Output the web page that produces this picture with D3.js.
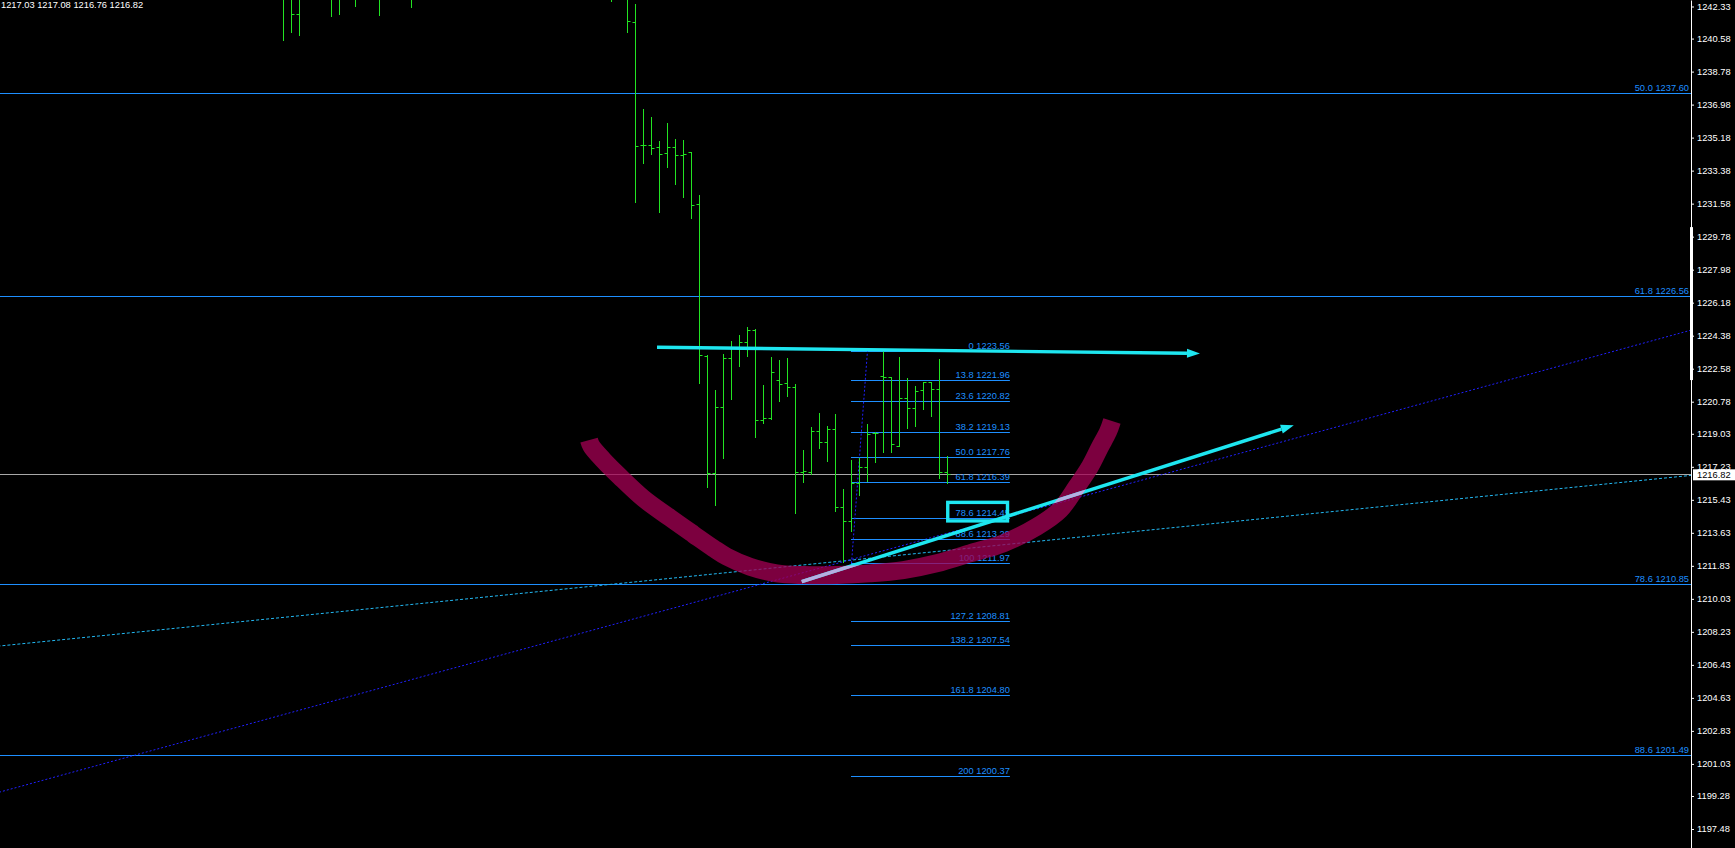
<!DOCTYPE html>
<html>
<head>
<meta charset="utf-8">
<script src="https://cdn.jsdelivr.net/npm/d3@7/dist/d3.min.js"></script>
<style>
  html, body { margin: 0; padding: 0; background: #000; overflow: hidden; }
  svg { display: block; }
  text { font-family: "Liberation Sans", Arial, sans-serif; }
</style>
</head>
<body>
<svg id="chart" width="1735" height="848"></svg>
<script>
// ---------------- DATA ----------------
const headerText = "1217.03 1217.08 1216.76 1216.82";
const currentPrice = 1216.82;

const priceTicks = [1242.33,1240.58,1238.78,1236.98,1235.18,1233.38,1231.58,1229.78,1227.98,
  1226.18,1224.38,1222.58,1220.78,1219.03,1217.23,1215.43,1213.63,1211.83,1210.03,1208.23,
  1206.43,1204.63,1202.83,1201.03,1199.28,1197.48];

// bar number (time index), OHLC
const barIndex = [35,36,37,41,42,44,47,51,76,78,79,80,81,82,83,84,85,86,87,88,89,90,91,92,93,94,95,96,97,98,99,100,101,102,103,104,105,106,107,108,109,110,111,112,113,114,115,116,117,118];
const barOpen  = [1243.40,1243.00,1241.90,1243.30,1243.00,1243.40,1243.20,1243.00,1243.30,1243.00,1241.47,1234.76,1234.76,1234.65,1234.32,1234.65,1234.21,1234.38,1231.54,1223.27,1216.91,1220.47,1223.15,1223.69,1224.05,1224.69,1219.78,1219.90,1221.96,1221.78,1221.57,1216.96,1216.96,1219.20,1218.60,1219.28,1215.05,1214.29,1216.36,1217.24,1219.06,1222.18,1222.11,1218.37,1220.97,1220.42,1221.42,1221.87,1221.46,1216.96];
const barHigh  = [1243.90,1243.60,1243.50,1243.80,1243.70,1244.00,1243.90,1243.60,1243.80,1243.50,1242.47,1236.74,1236.31,1234.99,1235.97,1235.10,1235.05,1234.40,1232.05,1223.30,1221.42,1223.38,1224.07,1224.43,1224.87,1224.73,1221.69,1223.23,1223.05,1223.15,1221.75,1218.15,1219.42,1220.15,1219.46,1220.09,1216.02,1217.60,1217.69,1219.56,1219.14,1223.56,1222.14,1223.20,1222.06,1221.64,1221.87,1221.87,1223.09,1217.82];
const barLow   = [1240.50,1240.96,1240.79,1241.83,1241.92,1242.37,1241.88,1242.32,1242.63,1240.96,1231.69,1233.81,1234.30,1231.14,1233.59,1232.67,1231.96,1230.80,1221.81,1216.15,1215.16,1217.73,1220.94,1222.74,1223.29,1218.87,1219.64,1219.85,1220.83,1221.11,1214.70,1216.42,1216.82,1218.27,1217.56,1214.82,1212.05,1213.75,1215.69,1216.47,1217.51,1218.05,1218.05,1218.37,1219.36,1219.46,1220.40,1220.02,1216.60,1216.36];
const barClose = [1243.10,1241.90,1242.95,1243.00,1243.20,1243.10,1242.90,1243.30,1242.95,1241.52,1234.72,1234.76,1234.60,1234.27,1234.65,1234.21,1234.27,1231.49,1223.33,1216.91,1220.47,1223.15,1223.69,1224.05,1224.69,1219.78,1219.88,1222.42,1221.73,1221.57,1216.96,1217.02,1219.20,1218.60,1219.28,1215.05,1214.29,1216.36,1217.24,1219.02,1219.06,1222.11,1218.47,1220.97,1220.42,1221.38,1221.87,1221.46,1216.96,1216.82];

// large Fibonacci retracement (levels reaching the price axis)
const bigFibLevels = ["50.0","61.8","78.6","88.6"];
const bigFibPrices = [1237.60,1226.56,1210.85,1201.49];

// small Fibonacci retracement
const fibLevels = ["0","13.8","23.6","38.2","50.0","61.8","78.6","88.6","100","127.2","138.2","161.8","200"];
const fibPrices = [1223.56,1221.96,1220.82,1219.13,1217.76,1216.39,1214.45,1213.29,1211.97,1208.81,1207.54,1204.80,1200.37];
const fibAnchorBars = [106, 108];
const fibAnchorPrices = [1211.97, 1223.56];
const fibEndBar = 125.8;

// trend lines (bar, price anchors; extended across the chart)
const cyanTrendBars = [0, 105];
const cyanTrendPrices = [1207.48, 1212.10];
const blueTrendBars = [0, 105];
const blueTrendPrices = [1199.55, 1212.06];

// hand-drawn annotations
const arcBars   = [73.19,73.5,74.98,77.06,79.98,83.31,86.23,88.73,90.40,93.31,96.65,99.98,104.15,108.31,112.48,116.65,120.81,124.98,129.15,132.06,134.15,135.81,137.06,138.06,138.56];
const arcPrices = [1218.69,1218.35,1217.60,1216.69,1215.51,1214.45,1213.55,1212.79,1212.33,1211.78,1211.42,1211.33,1211.33,1211.42,1211.60,1211.97,1212.51,1213.06,1213.96,1214.88,1216.15,1217.24,1218.31,1219.13,1219.73];
const arrow1Bars = [81.69, 149.56];
const arrow1Prices = [1223.75, 1223.41];
const arrow2Bars = [99.78, 161.29];
const arrow2Prices = [1210.97, 1219.50];
const boxBars = [118.03, 125.5];
const boxPrices = [1215.29, 1214.28];
const axisMarkPrices = [1230.30, 1221.96];

// ---------------- DRAW ----------------
const W = 1735, H = 848, axisX = 1691;
const svg = d3.select("#chart");
svg.append("rect").attr("width", W).attr("height", H).attr("fill", "#000");

const x = d3.scaleLinear().domain([0, 211]).range([3.5, 1691.5]);
const y = d3.scaleLinear().domain([1196.444, 1242.684]).range([H, 0]);
const cy = v => Math.round(y(v)) + 0.5;

const defs = svg.append("defs");
defs.append("clipPath").attr("id", "plot").append("rect")
  .attr("x", 0).attr("y", 0).attr("width", axisX).attr("height", H);

const arcLine = d3.line().x(d => x(d[0])).y(d => y(d[1])).curve(d3.curveCatmullRom.alpha(0.5));
const arcPts = arcBars.map((b, i) => [b, arcPrices[i]]);
const bandW = 18;
const mask = defs.append("mask").attr("id", "bandMask").attr("maskUnits", "userSpaceOnUse")
  .attr("x", 0).attr("y", 0).attr("width", W).attr("height", H);
mask.append("path").attr("d", arcLine(arcPts)).attr("fill", "none")
  .attr("stroke", "#fff").attr("stroke-width", bandW);

const plot = svg.append("g").attr("clip-path", "url(#plot)");

// header text
plot.append("text").attr("x", 1).attr("y", 8).attr("fill", "#fff")
  .attr("font-size", "9.3px").text(headerText);

// current price line
plot.append("line").attr("x1", 0).attr("x2", axisX).attr("y1", cy(currentPrice)).attr("y2", cy(currentPrice))
  .attr("stroke", "#a8a8a8").attr("stroke-width", 1);

// big fib levels
const fibBlue = "#1e8fff";
bigFibPrices.forEach((p, i) => {
  plot.append("line").attr("x1", 0).attr("x2", axisX).attr("y1", cy(p)).attr("y2", cy(p))
    .attr("stroke", fibBlue).attr("stroke-width", 1);
  plot.append("text").attr("x", axisX - 2).attr("y", cy(p) - 2.5).attr("text-anchor", "end")
    .attr("fill", fibBlue).attr("font-size", "9.3px").text(bigFibLevels[i] + " " + p.toFixed(2));
});

// trend lines
function trend(bars, prices, color, dash) {
  const slope = (prices[1] - prices[0]) / (bars[1] - bars[0]);
  const b0 = -2, b1 = 212;
  plot.append("line")
    .attr("x1", x(b0)).attr("y1", y(prices[0] + (b0 - bars[0]) * slope))
    .attr("x2", x(b1)).attr("y2", y(prices[0] + (b1 - bars[0]) * slope))
    .attr("stroke", color).attr("stroke-width", 1).attr("stroke-dasharray", dash);
}
trend(cyanTrendBars, cyanTrendPrices, "#22b8f2", "3,2");
trend(blueTrendBars, blueTrendPrices, "#2020ff", "2,2");

// small fib
fibPrices.forEach((p, i) => {
  plot.append("line").attr("x1", x(fibAnchorBars[0]) - 0.5).attr("x2", x(fibEndBar))
    .attr("y1", cy(p)).attr("y2", cy(p)).attr("stroke", fibBlue).attr("stroke-width", 1);
  plot.append("text").attr("x", x(fibEndBar)).attr("y", cy(p) - 2.5).attr("text-anchor", "end")
    .attr("fill", fibBlue).attr("font-size", "9.3px").text(fibLevels[i] + " " + p.toFixed(2));
});
plot.append("line")
  .attr("x1", x(fibAnchorBars[0])).attr("y1", y(fibAnchorPrices[0]))
  .attr("x2", x(fibAnchorBars[1])).attr("y2", y(fibAnchorPrices[1]))
  .attr("stroke", "#2020ff").attr("stroke-width", 1).attr("stroke-dasharray", "2,2");

// OHLC bars
const green = "#22e322";
const gb = plot.append("g").attr("stroke", green).attr("stroke-width", 1);
barIndex.forEach((k, i) => {
  const bx = x(k);
  gb.append("line").attr("x1", bx).attr("x2", bx).attr("y1", Math.round(y(barHigh[i]))).attr("y2", Math.round(y(barLow[i])) + 1);
  gb.append("line").attr("x1", bx - 3).attr("x2", bx).attr("y1", cy(barOpen[i])).attr("y2", cy(barOpen[i]));
  gb.append("line").attr("x1", bx).attr("x2", bx + 3).attr("y1", cy(barClose[i])).attr("y2", cy(barClose[i]));
});

// magenta hand-drawn arc
svg.append("path").attr("d", arcLine(arcPts)).attr("fill", "none")
  .attr("stroke", "#a30053").attr("stroke-opacity", 0.76).attr("stroke-width", bandW)
  .attr("stroke-linecap", "butt").attr("stroke-linejoin", "round");

// cyan arrows
const cyan = "#1ee6f0";
function arrow(bars, prices, color, masked) {
  const x1 = x(bars[0]), y1 = y(prices[0]), x2 = x(bars[1]), y2 = y(prices[1]);
  const a = Math.atan2(y2 - y1, x2 - x1), L = 13, hw = 4.5;
  const bxp = x2 - L * Math.cos(a), byp = y2 - L * Math.sin(a);
  const g = svg.append("g");
  if (masked) g.attr("mask", "url(#bandMask)");
  g.append("line").attr("x1", x1).attr("y1", y1).attr("x2", bxp).attr("y2", byp)
    .attr("stroke", color).attr("stroke-width", 3.4);
  g.append("path").attr("fill", color).attr("d",
    `M${x2},${y2}L${bxp + hw * Math.sin(a)},${byp - hw * Math.cos(a)}L${bxp - hw * Math.sin(a)},${byp + hw * Math.cos(a)}Z`);
}
arrow(arrow1Bars, arrow1Prices, cyan, false);
arrow(arrow2Bars, arrow2Prices, cyan, false);
arrow(arrow2Bars, arrow2Prices, "#b6aee2", true);

// cyan box
svg.append("rect")
  .attr("x", x(boxBars[0])).attr("y", y(boxPrices[0]))
  .attr("width", x(boxBars[1]) - x(boxBars[0])).attr("height", y(boxPrices[1]) - y(boxPrices[0]))
  .attr("fill", "none").attr("stroke", cyan).attr("stroke-width", 3.4);

// price axis
svg.append("rect").attr("x", axisX).attr("y", 0).attr("width", W - axisX).attr("height", H).attr("fill", "#000");
const axis = d3.axisRight(y).tickValues(priceTicks).tickSize(3).tickSizeOuter(0).tickPadding(3)
  .tickFormat(d3.format(".2f"));
const ag = svg.append("g").attr("transform", `translate(${axisX},0)`).call(axis);
ag.select(".domain").attr("stroke", "#fff");
ag.selectAll(".tick line").attr("stroke", "#fff");
ag.selectAll(".tick text").attr("fill", "#fff").attr("font-size", "9.3px")
  .attr("font-family", "Liberation Sans, Arial, sans-serif");

svg.append("rect").attr("x", axisX - 1).attr("width", 3)
  .attr("y", y(axisMarkPrices[0])).attr("height", y(axisMarkPrices[1]) - y(axisMarkPrices[0]))
  .attr("fill", "#fff");

// current price label
svg.append("rect").attr("x", axisX + 2).attr("y", y(currentPrice) - 5).attr("width", W - axisX - 2).attr("height", 11)
  .attr("fill", "#fff");
svg.append("text").attr("x", axisX + 6).attr("y", y(currentPrice) + 3.5).attr("fill", "#000")
  .attr("font-size", "9.3px").text(currentPrice.toFixed(2));
</script>
</body>
</html>
